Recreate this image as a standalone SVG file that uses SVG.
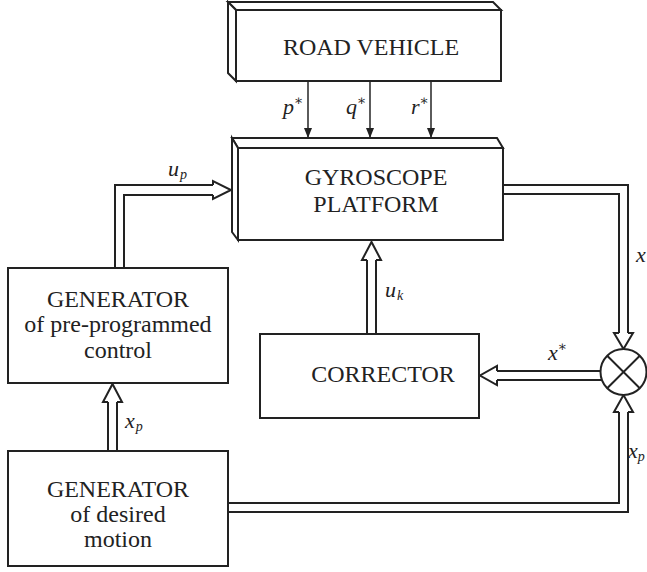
<svg xmlns="http://www.w3.org/2000/svg" width="647" height="572" viewBox="0 0 647 572">
<style>
.box{fill:#fff;stroke:#222;stroke-width:2;stroke-linejoin:miter}
.ln{fill:none;stroke:#222;stroke-width:2}
.thin{fill:none;stroke:#333;stroke-width:1.6}
.t{font-size:24px;fill:#222;text-anchor:middle}
.m{font-style:italic;font-size:22px;fill:#222}
.s{font-size:14px}
.a{font-size:14px;font-style:normal}
</style>
<defs>
<marker id="ah" viewBox="0 0 10 10" refX="10" refY="5" markerWidth="10" markerHeight="10" markerUnits="userSpaceOnUse" orient="auto">
<path d="M0,1 L10,5 L0,9 Z" fill="#222"/>
</marker>
</defs>
<rect width="647" height="572" fill="#fff"/>

<g id="connectors">
<line class="thin" x1="308" y1="81" x2="308" y2="138" marker-end="url(#ah)"/>
<line class="thin" x1="370" y1="81" x2="370" y2="138" marker-end="url(#ah)"/>
<line class="thin" x1="431" y1="81" x2="431" y2="138" marker-end="url(#ah)"/>
<path class="ln" d="M115,268 V185 H213"/>
<path class="ln" d="M124,268 V195 H213"/>
<path class="ln" d="M213,185 V181 L231,190 L213,199 V195"/>
<path class="ln" d="M367,334 V260"/>
<path class="ln" d="M376,334 V260"/>
<path class="ln" d="M367,260 H362 L371.5,242 L381,260 H376"/>
<path class="ln" d="M503,185 H628 V333"/>
<path class="ln" d="M503,194 H619 V333"/>
<path class="ln" d="M619,333 H614 L623.5,349 L633,333 H628"/>
<path class="ln" d="M601,371 H497"/>
<path class="ln" d="M602,380 H497"/>
<path class="ln" d="M497,371 V366 L480,375.5 L497,385 V380"/>
<path class="ln" d="M108,451 V402"/>
<path class="ln" d="M117,451 V402"/>
<path class="ln" d="M108,402 H103 L112.5,384 L122,402 H117"/>
<path class="ln" d="M228,503 H619 V412"/>
<path class="ln" d="M228,512 H628 V412"/>
<path class="ln" d="M619,412 H614 L623.5,395 L633,412 H628"/>
</g>

<g font-family="'Liberation Serif', 'DejaVu Serif', serif">
<g id="road-vehicle">
<polygon class="box" points="228,2 493,2 501,10 236,10"/>
<polygon class="box" points="228,2 236,10 236,81 228,73"/>
<rect class="box" x="236" y="10" width="265" height="71"/>
<text class="t" x="371" y="55">ROAD VEHICLE</text>
</g>

<g id="gyroscope-platform">
<polygon class="box" points="232,138 497,138 503,148 238,148"/>
<polygon class="box" points="232,138 238,148 238,240 232,232"/>
<rect class="box" x="238" y="148" width="265" height="92"/>
<text class="t" x="376" y="185">GYROSCOPE</text>
<text class="t" x="376" y="212">PLATFORM</text>
</g>

<g id="generator-control">
<rect class="box" x="8" y="268" width="220" height="115"/>
<text class="t" x="118" y="307">GENERATOR</text>
<text class="t" x="118" y="332">of pre-programmed</text>
<text class="t" x="118" y="358">control</text>
</g>

<g id="corrector">
<rect class="box" x="260" y="334" width="219" height="84"/>
<text class="t" x="383" y="382">CORRECTOR</text>
</g>

<g id="comparator">
<circle class="box" cx="623.5" cy="372" r="23"/>
<path class="ln" d="M607.2,355.7 L639.8,388.3 M639.8,355.7 L607.2,388.3"/>
</g>

<g id="generator-motion">
<rect class="box" x="8" y="451" width="220" height="115"/>
<text class="t" x="118" y="497">GENERATOR</text>
<text class="t" x="118" y="522">of desired</text>
<text class="t" x="118" y="547">motion</text>
</g>

<g id="labels">
<text class="m" x="283" y="114">p<tspan class="a" dy="-9">∗</tspan></text>
<text class="m" x="346" y="114">q<tspan class="a" dy="-9">∗</tspan></text>
<text class="m" x="411" y="114">r<tspan class="a" dy="-9">∗</tspan></text>
<text class="m" x="168" y="176">u<tspan class="s" dx="1" dy="3">p</tspan></text>
<text class="m" x="385" y="297">u<tspan class="s" dx="1" dy="3">k</tspan></text>
<text class="m" x="548" y="360">x<tspan class="a" dy="-9">∗</tspan></text>
<text class="m" x="636" y="262">x</text>
<text class="m" x="125" y="428">x<tspan class="s" dx="1" dy="3">p</tspan></text>
<text class="m" x="628" y="458">x<tspan class="s" dy="3">p</tspan></text>
</g>
</g>
</svg>
